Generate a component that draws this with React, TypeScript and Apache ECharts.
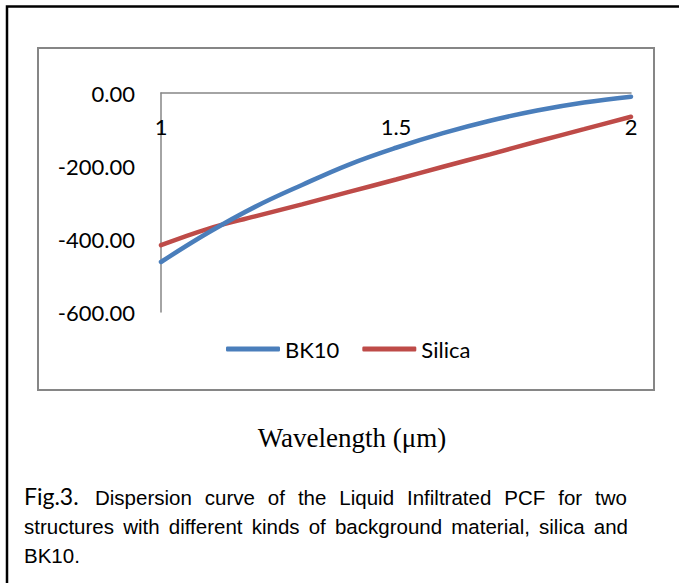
import React, { useEffect, useRef } from "react";
import * as echarts from "echarts";

const wavelengths = [1.0, 1.1, 1.2, 1.3, 1.4, 1.5, 1.6, 1.7, 1.8, 1.9, 2.0];
const bk10 = [-463, -383, -312, -252, -196, -150, -110, -76, -48, -26, -10];
const silica = [-417, -372, -338, -305, -271, -237, -202, -168, -133, -99, -65];
const seriesNames = ["BK10", "Silica"];
const xAxisTitle = "Wavelength (\u03bcm)";
const figLabel = "Fig.3.";
const captionLine1 = "Dispersion curve of the Liquid Infiltrated PCF for two";
const captionLine2 = "structures with different kinds of background material, silica and";
const captionLine3 = "BK10.";

const SANS = '"Liberation Sans", Arial, sans-serif';
const CAL = 'Lato, "Open Sans", sans-serif';
const SERIF = '"Liberation Serif", serif';

function measure(text: string, font: string): number {
  const ctx = document.createElement("canvas").getContext("2d");
  if (!ctx) return text.length * 9;
  ctx.font = font;
  return ctx.measureText(text).width;
}

function justifiedLine(text: string, x0: number, x1: number, y: number, size: number) {
  const words = text.split(" ");
  const font = `${size}px ${SANS}`;
  const widths = words.map((w) => measure(w, font));
  const total = widths.reduce((a, b) => a + b, 0);
  const gap = (x1 - x0 - total) / (words.length - 1);
  let x = x0;
  return words.map((w, i) => {
    const el = {
      type: "text",
      x,
      y,
      style: {
        text: w,
        fontFamily: SANS,
        fontSize: size,
        fill: "#000",
        textAlign: "left",
        textVerticalAlign: "middle",
      },
    };
    x += widths[i] + gap;
    return el;
  });
}

export default function App() {
  const ref = useRef<HTMLDivElement>(null);
  useEffect(() => {
    document.body.style.margin = "0";
    if (!ref.current) return;
    const chart = echarts.init(ref.current, null, { renderer: "svg" });
    const capSize = 20.5;
    const option = {
      animation: false,
      backgroundColor: "#ffffff",
      grid: { left: 161, top: 93, width: 470, height: 219, containLabel: false },
      legend: {
        data: seriesNames,
        left: 226,
        top: 338,
        padding: 0,
        itemWidth: 54,
        itemHeight: 5,
        itemGap: 23,
        icon: "roundRect",
        textStyle: { fontFamily: CAL, fontSize: 22, color: "#000", padding: [0, 0, 0, 0] },
      },
      xAxis: {
        type: "value",
        position: "top",
        min: 1,
        max: 2,
        interval: 0.5,
        axisLine: { show: true, onZero: false, lineStyle: { color: "#868686", width: 1.5 } },
        axisTick: { show: false },
        splitLine: { show: false },
        axisLabel: {
          inside: true,
          margin: 22,
          fontFamily: CAL,
          fontSize: 22,
          color: "#000",
          showMinLabel: true,
          showMaxLabel: true,
          formatter: (v: number) => String(v),
        },
      },
      yAxis: {
        type: "value",
        min: -600,
        max: 0,
        interval: 200,
        axisLine: { show: true, onZero: false, lineStyle: { color: "#868686", width: 1.5 } },
        axisTick: { show: false },
        splitLine: { show: false },
        axisLabel: {
          margin: 26,
          fontFamily: CAL,
          fontSize: 22,
          color: "#000",
          formatter: (v: number) => v.toFixed(2),
        },
      },
      series: [
        {
          name: seriesNames[0],
          type: "line",
          smooth: 0.4,
          showSymbol: false,
          data: wavelengths.map((w, i) => [w, bk10[i]]),
          lineStyle: { color: "#4a7ebb", width: 4.5, cap: "round" },
          itemStyle: { color: "#4a7ebb" },
          z: 3,
        },
        {
          name: seriesNames[1],
          type: "line",
          smooth: 0.4,
          showSymbol: false,
          data: wavelengths.map((w, i) => [w, silica[i]]),
          lineStyle: { color: "#be4b48", width: 4.5, cap: "round" },
          itemStyle: { color: "#be4b48" },
          z: 2,
        },
      ],
      graphic: [
        {
          type: "polyline",
          shape: { points: [[7, 583], [7, 6.5], [679, 6.5]] },
          style: { stroke: "#000", lineWidth: 2.5, fill: "none" },
          silent: true,
        },
        {
          type: "rect",
          shape: { x: 38, y: 48, width: 616, height: 342 },
          style: { stroke: "#868686", lineWidth: 2, fill: "none" },
          silent: true,
          z: -1,
        },
        {
          type: "text",
          x: 352,
          y: 438,
          style: {
            text: xAxisTitle,
            fontFamily: SERIF,
            fontSize: 27,
            fill: "#000",
            textAlign: "center",
            textVerticalAlign: "middle",
          },
        },
        {
          type: "text",
          x: 24,
          y: 496,
          style: {
            text: figLabel,
            fontFamily: CAL,
            fontSize: 23,
            fill: "#000",
            textAlign: "left",
            textVerticalAlign: "middle",
          },
        },
        ...justifiedLine(captionLine1, 95, 627, 504 - 0.33 * capSize, capSize),
        ...justifiedLine(captionLine2, 24, 628, 533 - 0.33 * capSize, capSize),
        {
          type: "text",
          x: 24,
          y: 562 - 0.33 * capSize,
          style: {
            text: captionLine3,
            fontFamily: SANS,
            fontSize: capSize,
            fill: "#000",
            textAlign: "left",
            textVerticalAlign: "middle",
          },
        },
      ],
    };
    chart.setOption(option as any);
    return () => chart.dispose();
  }, []);
  return (
    <div
      ref={ref}
      style={{ position: "absolute", left: 0, top: 0, width: 679, height: 583 }}
    />
  );
}
